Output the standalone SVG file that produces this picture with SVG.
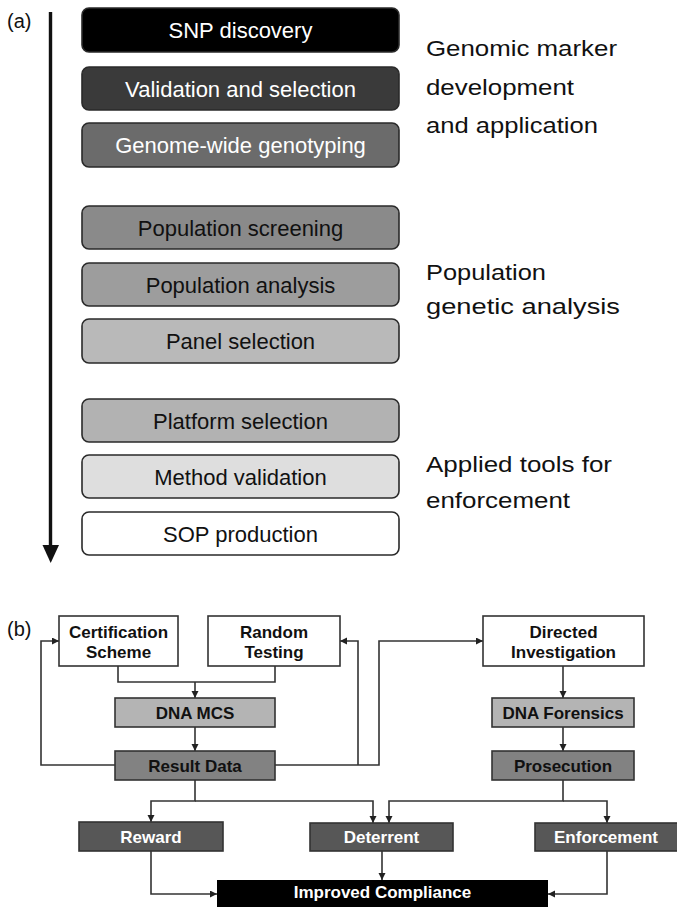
<svg xmlns="http://www.w3.org/2000/svg" width="677" height="907" viewBox="0 0 677 907">
<defs>
<marker id="ah" markerUnits="userSpaceOnUse" markerWidth="8" markerHeight="8" refX="7" refY="3.5" orient="auto">
<path d="M0,0 L7,3.5 L0,7 z" fill="#222"/>
</marker>
<style>
.lbl{font-family:"Liberation Sans",Arial,sans-serif;}
.ta{font-size:22px;text-anchor:middle;}
.side{font-size:22px;fill:#111;}
.tb{font-size:17px;font-weight:bold;text-anchor:middle;}
.ra{stroke:#2a2a2a;stroke-width:1.6;}
.rb{stroke:#333;stroke-width:1.6;}
.conn{fill:none;stroke:#333;stroke-width:1.6;}
.w{fill:#fff;}
.k{fill:#111;}
</style>
</defs>
<rect x="0" y="0" width="677" height="907" fill="#fff"/>

<!-- Part (a) -->
<text class="lbl" x="7" y="28" font-size="20" fill="#111">(a)</text>
<g id="timeline">
<line x1="50.5" y1="12" x2="50.5" y2="547" stroke="#111" stroke-width="3.4"/>
<polygon points="42.5,545 59,545 50.7,563" fill="#111"/>
</g>

<g id="a1"><rect class="ra" x="82" y="8" width="317" height="44" rx="7" fill="#000"/><text class="lbl ta w" x="240.5" y="38">SNP discovery</text></g>
<g id="a2"><rect class="ra" x="82" y="67" width="317" height="43" rx="7" fill="#3a3a3a"/><text class="lbl ta w" x="240.5" y="96.5">Validation and selection</text></g>
<g id="a3"><rect class="ra" x="82" y="123" width="317" height="44" rx="7" fill="#6b6b6b"/><text class="lbl ta w" x="240.5" y="153">Genome-wide genotyping</text></g>
<g id="a4"><rect class="ra" x="82" y="206" width="317" height="43" rx="7" fill="#8a8a8a"/><text class="lbl ta k" x="240.5" y="235.5">Population screening</text></g>
<g id="a5"><rect class="ra" x="82" y="263" width="317" height="43" rx="7" fill="#9d9d9d"/><text class="lbl ta k" x="240.5" y="292.5">Population analysis</text></g>
<g id="a6"><rect class="ra" x="82" y="319" width="317" height="44" rx="7" fill="#b9b9b9"/><text class="lbl ta k" x="240.5" y="349">Panel selection</text></g>
<g id="a7"><rect class="ra" x="82" y="399" width="317" height="43" rx="7" fill="#b2b2b2"/><text class="lbl ta k" x="240.5" y="428.5">Platform selection</text></g>
<g id="a8"><rect class="ra" x="82" y="455" width="317" height="43" rx="7" fill="#dedede"/><text class="lbl ta k" x="240.5" y="484.5">Method validation</text></g>
<g id="a9"><rect class="ra" x="82" y="512" width="317" height="43" rx="7" fill="#fff"/><text class="lbl ta k" x="240.5" y="541.5">SOP production</text></g>

<g id="side-labels">
<text class="lbl side" x="426" y="56" textLength="191" lengthAdjust="spacingAndGlyphs">Genomic marker</text>
<text class="lbl side" x="426" y="95" textLength="148" lengthAdjust="spacingAndGlyphs">development</text>
<text class="lbl side" x="426" y="133" textLength="172" lengthAdjust="spacingAndGlyphs">and application</text>
<text class="lbl side" x="426" y="280" textLength="120" lengthAdjust="spacingAndGlyphs">Population</text>
<text class="lbl side" x="426" y="314" textLength="194" lengthAdjust="spacingAndGlyphs">genetic  analysis</text>
<text class="lbl side" x="426" y="472" textLength="186" lengthAdjust="spacingAndGlyphs">Applied tools for</text>
<text class="lbl side" x="426" y="508" textLength="144" lengthAdjust="spacingAndGlyphs">enforcement</text>
</g>

<!-- Part (b) -->
<text class="lbl" x="7" y="636" font-size="20" fill="#111">(b)</text>

<g id="connectors">
<path class="conn" d="M118,666 V682 H275 V666"/>
<path class="conn" d="M195,682 V698" marker-end="url(#ah)"/>
<path class="conn" d="M195,727 V751" marker-end="url(#ah)"/>
<path class="conn" d="M115,765 H41 V641 H59" marker-end="url(#ah)"/>
<path class="conn" d="M275,765 H379 V641 H483" marker-end="url(#ah)"/>
<path class="conn" d="M358,765 V641 H340" marker-end="url(#ah)"/>
<path class="conn" d="M563,666 V698" marker-end="url(#ah)"/>
<path class="conn" d="M563,727 V751" marker-end="url(#ah)"/>
<path class="conn" d="M195,780 V801 H151 V822" marker-end="url(#ah)"/>
<path class="conn" d="M195,801 H373 V823" marker-end="url(#ah)"/>
<path class="conn" d="M563,780 V801 H389 V823" marker-end="url(#ah)"/>
<path class="conn" d="M563,801 H607 V823" marker-end="url(#ah)"/>
<path class="conn" d="M151,851 V894 H217" marker-end="url(#ah)"/>
<path class="conn" d="M382,851 V880" marker-end="url(#ah)"/>
<path class="conn" d="M607,851 V894 H548" marker-end="url(#ah)"/>
</g>

<g id="cert"><rect class="rb" x="59" y="616" width="119" height="50" fill="#fff"/><text class="lbl tb k" x="118.5" y="638">Certification</text><text class="lbl tb k" x="118.5" y="658">Scheme</text></g>
<g id="random"><rect class="rb" x="208" y="616" width="132" height="50" fill="#fff"/><text class="lbl tb k" x="274" y="638">Random</text><text class="lbl tb k" x="274" y="658">Testing</text></g>
<g id="directed"><rect class="rb" x="483" y="616" width="161" height="50" fill="#fff"/><text class="lbl tb k" x="563.5" y="638">Directed</text><text class="lbl tb k" x="563.5" y="658">Investigation</text></g>
<g id="dnamcs"><rect class="rb" x="115" y="698" width="160" height="29" fill="#b4b4b4"/><text class="lbl tb k" x="195" y="718.5">DNA MCS</text></g>
<g id="dnaforensics"><rect class="rb" x="492" y="698" width="142" height="29" fill="#b4b4b4"/><text class="lbl tb k" x="563" y="718.5">DNA Forensics</text></g>
<g id="result"><rect class="rb" x="115" y="751" width="160" height="29" fill="#828282"/><text class="lbl tb k" x="195" y="771.5">Result Data</text></g>
<g id="prosecution"><rect class="rb" x="492" y="751" width="142" height="29" fill="#828282"/><text class="lbl tb k" x="563" y="771.5">Prosecution</text></g>
<g id="reward"><rect class="rb" x="79" y="822" width="144" height="29" fill="#575757"/><text class="lbl tb w" x="151" y="842.5">Reward</text></g>
<g id="deterrent"><rect class="rb" x="310" y="823" width="143" height="28" fill="#575757"/><text class="lbl tb w" x="381.5" y="843">Deterrent</text></g>
<g id="enforcement"><rect class="rb" x="535" y="823" width="143" height="28" fill="#575757"/><text class="lbl tb w" x="606" y="843">Enforcement</text></g>
<g id="compliance"><rect x="217" y="880" width="331" height="30" fill="#000"/><text class="lbl tb w" x="382.5" y="898">Improved Compliance</text></g>
</svg>
